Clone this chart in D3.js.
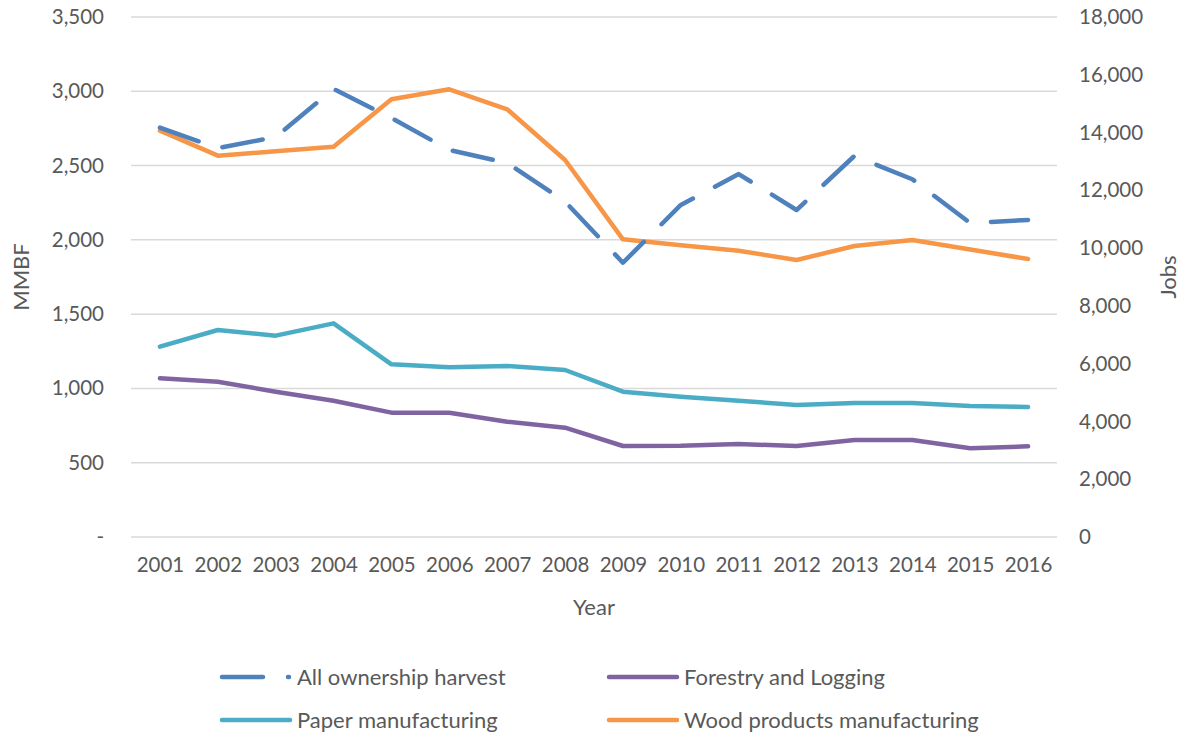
<!DOCTYPE html>
<html>
<head>
<meta charset="utf-8">
<script src="https://cdn.jsdelivr.net/npm/d3@7"></script>
<style>
  html, body { margin: 0; padding: 0; background: #fff; }
  svg { display: block; }
  text { font-family: Lato, "Open Sans", sans-serif; fill: #595959; }
</style>
</head>
<body>
<svg id="chart" width="1189" height="738"></svg>
<script>
// Years on the category axis
const years = ["2001","2002","2003","2004","2005","2006","2007","2008",
               "2009","2010","2011","2012","2013","2014","2015","2016"];

// Timber harvest, million board feet (left axis)
const harvest = [2755, 2618, 2692, 3016, 2820, 2605, 2517, 2258,
                 1846, 2235, 2443, 2201, 2565, 2408, 2113, 2134];

// Employment, jobs (right axis)
const forestry = [5492, 5377, 5030, 4719, 4304, 4304, 3992, 3785,
                  3150, 3160, 3219, 3150, 3358, 3358, 3070, 3139];
const paper    = [6588, 7165, 6969, 7396, 5977, 5873, 5919, 5781,
                  5030, 4857, 4719, 4569, 4638, 4638, 4535, 4500];
const wood     = [14065, 13200, 13350, 13511, 15150, 15497, 14805, 13050,
                  10305, 10097, 9911, 9588, 10073, 10281, 9952, 9623];

const leftTicks  = [0, 500, 1000, 1500, 2000, 2500, 3000, 3500];
const rightTicks = [0, 2000, 4000, 6000, 8000, 10000, 12000, 14000, 16000, 18000];

const svg = d3.select("#chart");
const plot = { left: 131, right: 1057, top: 17, bottom: 537 };
const midY = (plot.top + plot.bottom) / 2;

const x = d3.scalePoint().domain(years).range([plot.left, plot.right]).padding(0.5);
const yL = d3.scaleLinear().domain([0, 3500]).range([plot.bottom, plot.top]);
const yR = d3.scaleLinear().domain([0, 18000]).range([plot.bottom, plot.top]);

const fmt = d3.format(",");
const tickFont = "20.5px";
const titleFont = "22px";

// Horizontal gridlines (shared by both axes)
svg.append("g")
  .selectAll("line")
  .data(leftTicks)
  .join("line")
  .attr("x1", plot.left).attr("x2", plot.right)
  .attr("y1", d => yL(d)).attr("y2", d => yL(d))
  .attr("stroke", "#d9d9d9").attr("stroke-width", 1.5);

function styleAxis(g) {
  g.select(".domain").remove();
  g.selectAll("text").style("font-size", tickFont).attr("fill", "#595959")
    .style("font-family", "Lato, 'Open Sans', sans-serif");
}

// Left axis
svg.append("g")
  .attr("transform", `translate(${plot.left},0)`)
  .call(d3.axisLeft(yL).tickValues(leftTicks)
        .tickFormat(d => d === 0 ? "-" : fmt(d)).tickSize(0).tickPadding(27))
  .call(styleAxis);

// Right axis
svg.append("g")
  .attr("transform", `translate(${plot.right},0)`)
  .call(d3.axisRight(yR).tickValues(rightTicks).tickFormat(fmt).tickSize(0).tickPadding(22))
  .call(styleAxis);

// Bottom axis
svg.append("g")
  .attr("transform", `translate(0,${plot.bottom})`)
  .call(d3.axisBottom(x).tickSize(0).tickPadding(20))
  .call(styleAxis);

// Axis titles
svg.append("text")
  .attr("transform", `translate(28.5,${midY}) rotate(-90)`)
  .attr("text-anchor", "middle").style("font-size", titleFont).text("MMBF");
svg.append("text")
  .attr("transform", `translate(1176,${midY}) rotate(-90)`)
  .attr("text-anchor", "middle").style("font-size", titleFont).text("Jobs");
svg.append("text")
  .attr("x", (plot.left + plot.right) / 2).attr("y", 615)
  .attr("text-anchor", "middle").style("font-size", titleFont).text("Year");

// Series definitions
const series = [
  { name: "All ownership harvest", values: harvest, scale: yL, color: "#4F81BD", dash: "41,25" },
  { name: "Forestry and Logging", values: forestry, scale: yR, color: "#8064A2", dash: null },
  { name: "Paper manufacturing", values: paper, scale: yR, color: "#4BACC6", dash: null },
  { name: "Wood products manufacturing", values: wood, scale: yR, color: "#F79646", dash: null }
];

// Draw order: employment lines first, harvest last
const drawOrder = [series[1], series[2], series[3], series[0]];
drawOrder.forEach(s => {
  const line = d3.line().x((d, i) => x(years[i])).y(d => s.scale(d));
  svg.append("path")
    .datum(s.values)
    .attr("d", line)
    .attr("fill", "none")
    .attr("stroke", s.color)
    .attr("stroke-width", 4.5)
    .attr("stroke-linejoin", "round")
    .attr("stroke-linecap", "round")
    .attr("stroke-dasharray", s.dash);
});

// Legend (two columns, two rows)
const legendPos = [
  { x: 222, y: 677 }, { x: 609, y: 677 },
  { x: 222, y: 720 }, { x: 609, y: 720 }
];
series.forEach((s, i) => {
  const p = legendPos[i];
  const g = svg.append("g").attr("transform", `translate(${p.x},${p.y})`);
  g.append("line")
    .attr("x1", 0).attr("x2", s.dash ? 67 : 68)
    .attr("y1", 0).attr("y2", 0)
    .attr("stroke", s.color).attr("stroke-width", 4.5)
    .attr("stroke-linecap", "round")
    .attr("stroke-dasharray", s.dash);
  g.append("text")
    .attr("x", 75).attr("y", 0).attr("dy", "0.35em")
    .style("font-size", titleFont).text(s.name);
});
</script>
</body>
</html>
